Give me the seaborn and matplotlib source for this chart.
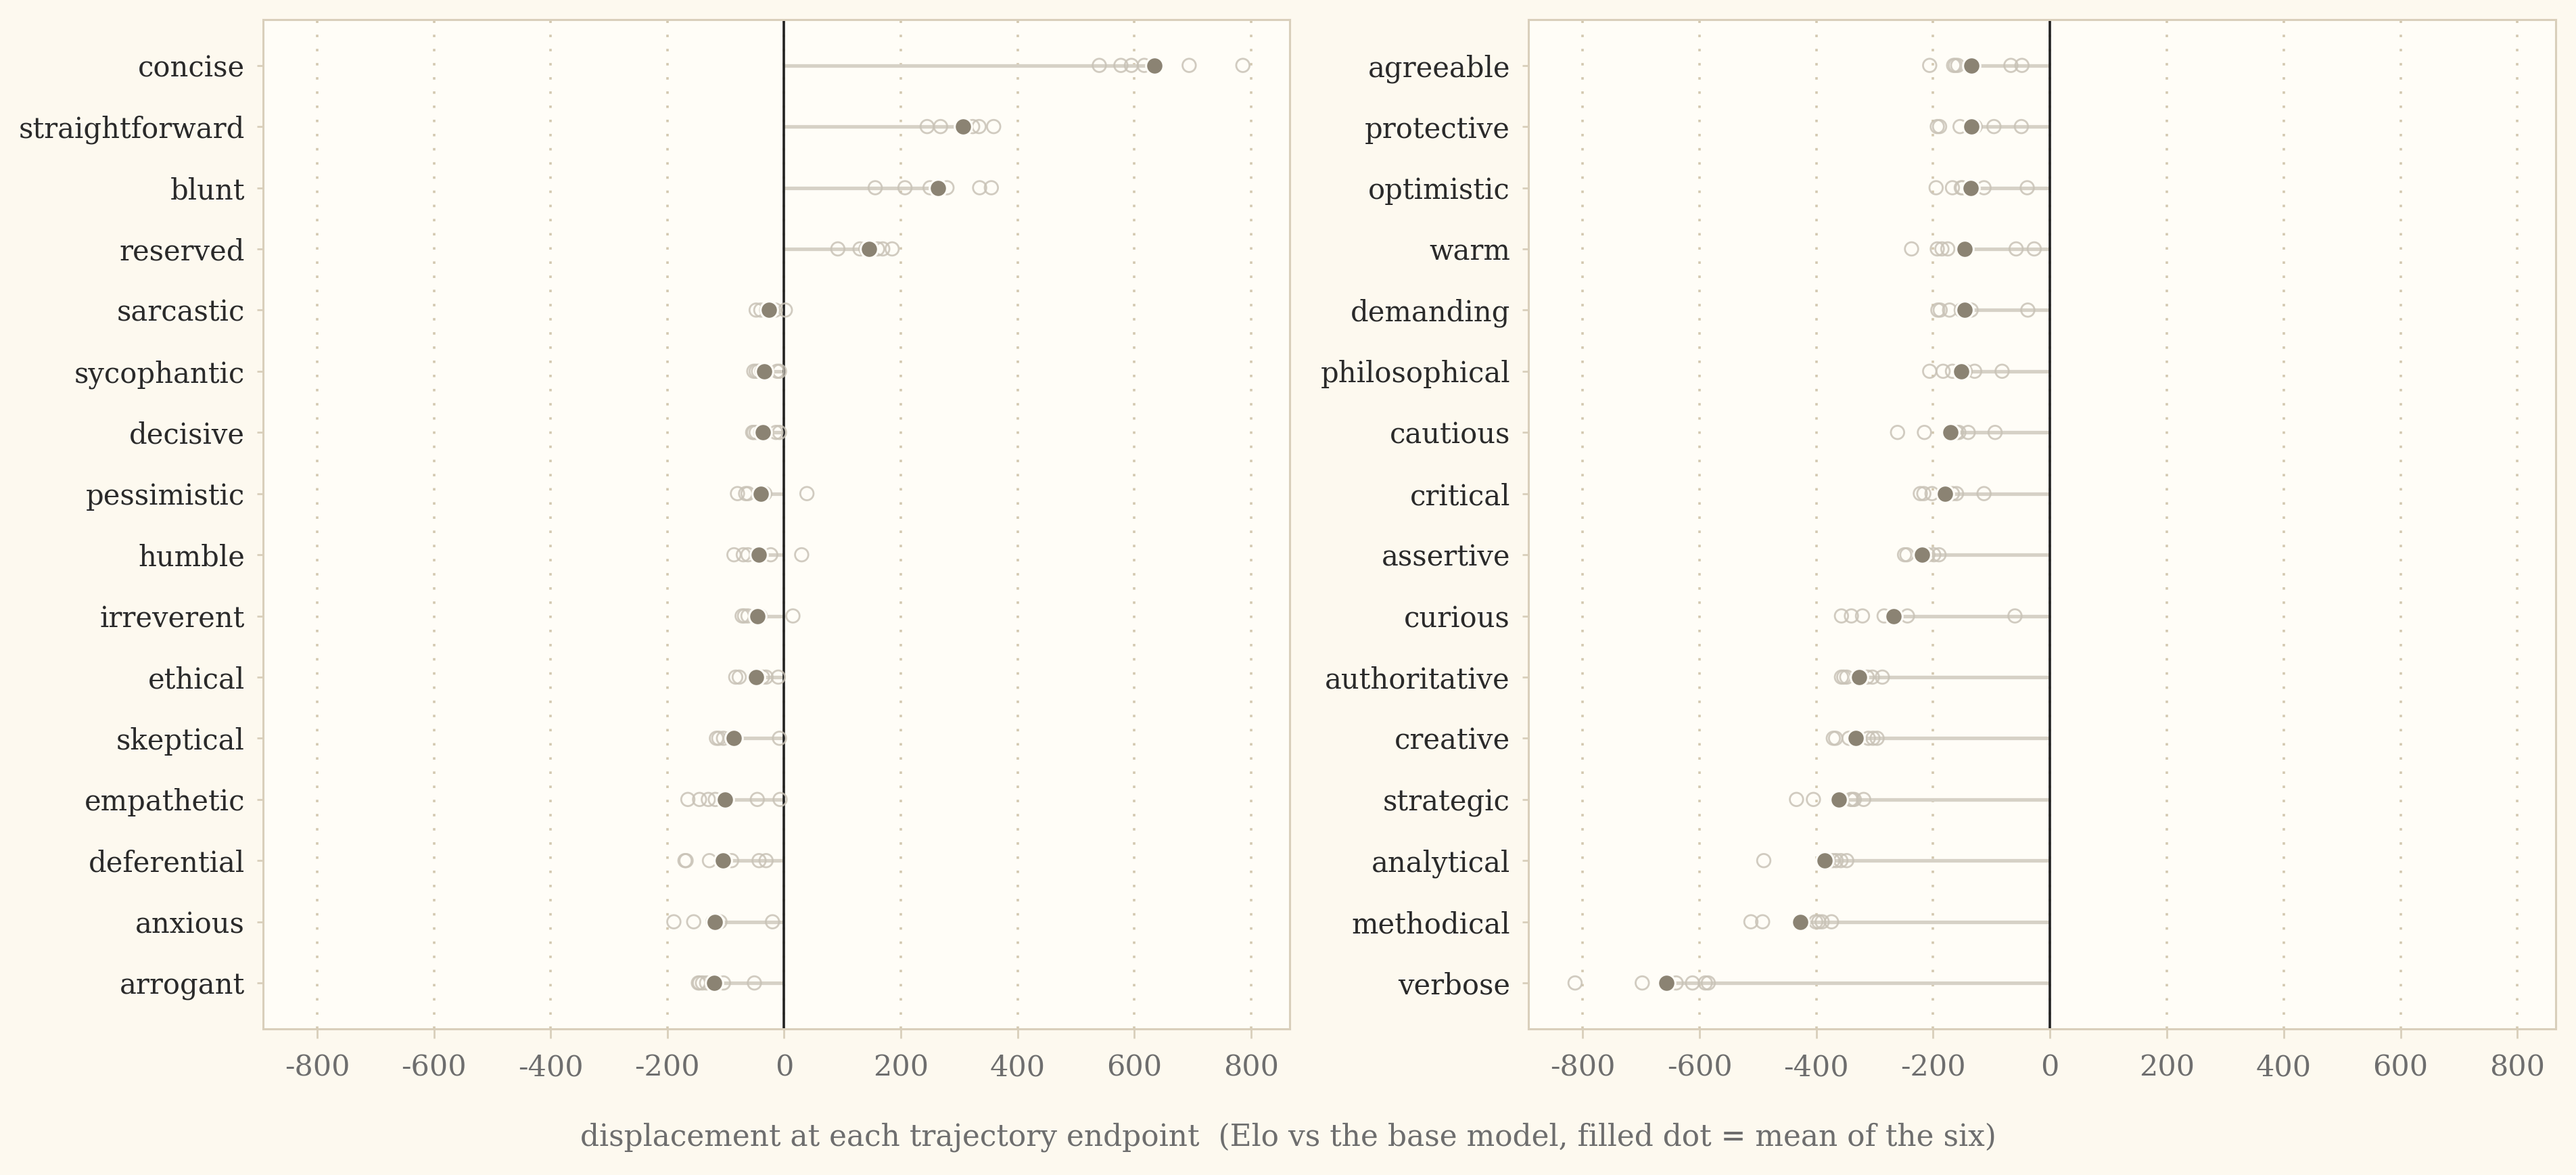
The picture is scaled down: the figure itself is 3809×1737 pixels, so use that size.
import pandas as pd
import seaborn as sns
import matplotlib.pyplot as plt

# Elo displacement at each of the six trajectory endpoints, per trait
left_traits = ["concise", "straightforward", "blunt", "reserved", "sarcastic",
               "sycophantic", "decisive", "pessimistic", "humble", "irreverent",
               "ethical", "skeptical", "empathetic", "deferential", "anxious",
               "arrogant"]
left_runs = [
    [540, 577, 595, 617, 694, 786],
    [245, 268, 307, 323, 334, 359],
    [156, 207, 250, 279, 335, 355],
    [92, 130, 140, 160, 169, 185],
    [-48, -40, -30, -25, -15, 2],
    [-52, -48, -44, -38, -12, -8],
    [-54, -52, -48, -40, -14, -8],
    [-80, -66, -62, -38, -33, 39],
    [-86, -70, -62, -47, -23, 30],
    [-72, -68, -62, -48, -41, 15],
    [-83, -77, -50, -37, -31, -10],
    [-116, -112, -104, -92, -84, -8],
    [-165, -145, -130, -118, -46, -7],
    [-170, -168, -128, -90, -43, -31],
    [-189, -155, -122, -118, -110, -20],
    [-147, -145, -140, -133, -104, -51],
]

right_traits = ["agreeable", "protective", "optimistic", "warm", "demanding",
                "philosophical", "cautious", "critical", "assertive", "curious",
                "authoritative", "creative", "strategic", "analytical",
                "methodical", "verbose"]
right_runs = [
    [-206, -165, -162, -158, -67, -48],
    [-193, -189, -154, -128, -96, -49],
    [-195, -167, -152, -150, -113, -39],
    [-237, -193, -185, -175, -58, -27],
    [-192, -188, -172, -152, -135, -38],
    [-206, -183, -167, -145, -129, -82],
    [-261, -215, -160, -156, -140, -94],
    [-222, -216, -202, -167, -160, -113],
    [-249, -245, -222, -209, -199, -190],
    [-357, -340, -321, -284, -244, -60],
    [-357, -353, -348, -313, -304, -287],
    [-371, -367, -344, -311, -303, -296],
    [-434, -405, -341, -338, -335, -319],
    [-490, -380, -372, -366, -358, -348],
    [-512, -492, -401, -396, -390, -374],
    [-813, -698, -640, -612, -590, -585],
]

x_ticks = [-800, -600, -400, -200, 0, 200, 400, 600, 800]
x_label = ("displacement at each trajectory endpoint  "
           "(Elo vs the base model, filled dot = mean of the six)")

BG = "#FDF9EF"
PANEL = "#FFFDF7"
FRAME = "#D9CFBB"
GRID = "#D3C8B0"
HOLLOW = "#C9C3B7"
STEM = "#D6D1C6"
MEAN = "#8B8373"

sns.set_theme(style="white")
plt.rcParams["font.family"] = ["DejaVu Serif"]
plt.rcParams["axes.unicode_minus"] = False


def to_frame(traits, runs):
    rows = []
    for i, (t, vals) in enumerate(zip(traits, runs)):
        for v in vals:
            rows.append({"trait": t, "pos": i, "elo": v})
    return pd.DataFrame(rows)


def draw_panel(ax, traits, runs, xlim):
    df = to_frame(traits, runs)
    means = df.groupby("pos", as_index=False)["elo"].mean()

    ax.set_facecolor(PANEL)
    ax.set_axisbelow(True)
    ax.hlines(means["pos"], 0, means["elo"], color=STEM, lw=1.9, zorder=1)
    ax.axvline(0, color="#222222", lw=1.3, zorder=2)
    sns.scatterplot(data=df, x="elo", y="pos", ax=ax, s=50,
                    facecolor="none", edgecolor=HOLLOW, linewidth=1.0,
                    alpha=0.85, zorder=3, legend=False)
    sns.scatterplot(data=means, x="elo", y="pos", ax=ax, s=85,
                    color=MEAN, edgecolor=PANEL, linewidth=1.1,
                    zorder=4, legend=False)

    ax.set_xlim(*xlim)
    ax.set_ylim(len(traits) - 0.25, -0.75)
    ax.set_xticks(x_ticks)
    ax.set_yticks(range(len(traits)))
    ax.set_yticklabels(traits)
    ax.set_xlabel("")
    ax.set_ylabel("")
    ax.xaxis.grid(True, color=GRID, lw=1.3, linestyle=(0, (1, 4.8)))
    ax.yaxis.grid(False)

    for sp in ax.spines.values():
        sp.set_color(FRAME)
        sp.set_linewidth(1.1)
    ax.tick_params(axis="y", left=True, length=3.2, width=1.0, color=FRAME,
                   labelsize=15, labelcolor="#2A2A2A", pad=6.5)
    ax.tick_params(axis="x", bottom=True, length=5, width=1.0, color=FRAME,
                   labelsize=15.5, labelcolor="#6E6E6E", pad=8)


all_vals = [v for r in left_runs + right_runs for v in r]
xlim = (min(all_vals) - 80, max(all_vals) + 80)

fig = plt.figure(figsize=(19.045, 8.685), dpi=200, facecolor=BG)
ax_l = fig.add_axes([0.1021, 0.1244, 0.3985, 0.8590])
ax_r = fig.add_axes([0.5933, 0.1244, 0.3989, 0.8590])

draw_panel(ax_l, left_traits, left_runs, xlim)
draw_panel(ax_r, right_traits, right_runs, xlim)

fig.text(0.5, 1 - 1681 / 1737, x_label, ha="center", va="center",
         fontsize=15.8, color="#6E6E6E")

fig.savefig("out.png", dpi=200, facecolor=BG)
plt.close(fig)
